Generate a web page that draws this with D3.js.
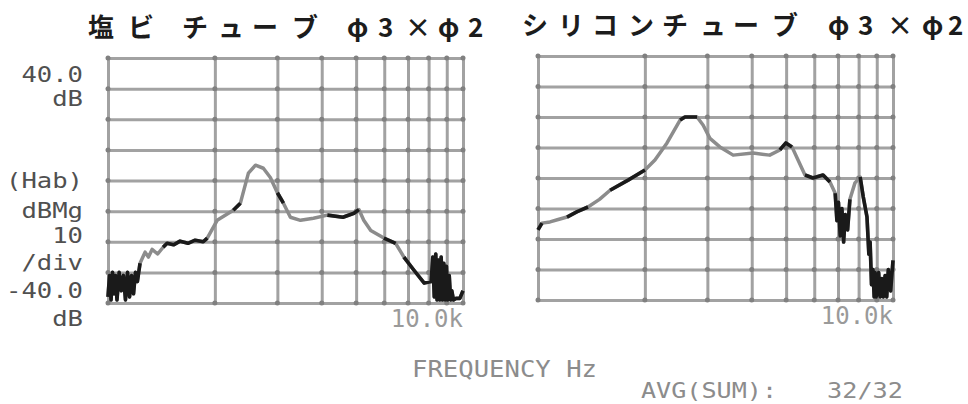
<!DOCTYPE html>
<html>
<head>
<meta charset="utf-8">
<script src="https://cdn.jsdelivr.net/npm/d3@7"></script>
<style>
  html, body { margin: 0; padding: 0; background: #fff; }
  svg { display: block; }
</style>
</head>
<body>
<svg id="chart" width="968" height="404"></svg>
<script>
// Transfer function magnitude |Hab|, 1 kHz – 10 kHz, two tube materials
const titles = ["塩ビチューブφ3×φ2", "シリコンチューブφ3×φ2"];

const freqGrid = [1000, 2000, 3000, 4000, 5000, 6000, 7000, 8000, 9000, 10000];
const dbGrid = [-40, -30, -20, -10, 0, 10, 20, 30, 40];
const yLabels = ["40.0", "dB", "(Hab)", "dBMg", "10", "/div", "-40.0", "dB"];
const xEndLabel = "10.0k";
const xAxisTitle = "FREQUENCY Hz";
const avgLabel = "AVG(SUM):";
const avgCount = "32/32";

// PVC tube
const pvcFreq = [1000, 1010, 1020, 1030, 1040, 1050, 1060, 1075, 1090, 1105, 1120, 1135, 1150, 1165, 1180, 1195, 1210,
  1231, 1272, 1300, 1331, 1380, 1430, 1467, 1530, 1596, 1680, 1760, 1855, 1904, 2030, 2254, 2360, 2486, 2603,
  2739, 2866, 3000, 3120, 3264, 3485, 3790, 4150, 4590, 4930, 5090, 5253, 5497, 5986, 6460, 6816, 7276, 7777,
  8133, 8220, 8300, 8380, 8450, 8530, 8600, 8680, 8750, 8830, 8900, 8980, 9050, 9145, 9230, 9300, 9400, 9557, 9800, 10000];
const pvcDb = [-38, -31, -39, -30, -37, -31, -39, -30, -36, -31, -39, -30, -38, -31, -37, -30, -33,
  -27, -23.4, -25, -22.5, -24, -21.8, -20.5, -21, -19.8, -20.5, -19.5, -20, -18.8, -13, -9.7, -7.4, 2.4, 5,
  4, 1, -4, -7.4, -12, -13, -12.3, -11.3, -12, -10.7, -9.5, -13, -16.3, -18.8, -20.5, -25, -29.3, -33.5,
  -33, -25, -38, -24, -39, -26, -39, -25, -39, -27, -39, -28, -39, -31, -39, -36, -39, -38.5, -38.5, -36];
const pvcDark = [[1000, 1231], [1430, 1904], [2254, 2360], [3000, 3120], [4150, 5090], [5986, 6460], [6816, 10000]];

// Silicone tube
const silFreq = [1000, 1026, 1081, 1140, 1207, 1290, 1383, 1490, 1596, 1794, 2001, 2135, 2309, 2513, 2594, 2806,
  2917, 3050, 3253, 3546, 4034, 4494, 4800, 4992, 5193, 5401, 5650, 5949, 6353, 6644, 6873, 6950, 7020, 7100,
  7180, 7260, 7340, 7450, 7562, 7814, 8082, 8240, 8448, 8550, 8620, 8700, 8780, 8850, 8900, 8960, 9030, 9110,
  9200, 9300, 9390, 9500, 9600, 9700, 9850, 10000];
const silDb = [-17, -14.8, -14.4, -13.6, -12.8, -11, -9.5, -7, -4, -0.7, 2.6, 5.9, 11.5, 19, 20, 20,
  17.4, 13, 10.2, 7.5, 8.2, 7.5, 9.2, 11.5, 10.2, 5.9, 1, 0, 1, -1.3, -5, -14, -8, -19,
  -10, -21, -12, -17, -7, -1.6, 0.3, -6, -12.8, -25, -21, -35, -30, -39, -31, -39, -37.7, -31,
  -39, -33, -39, -32, -39, -30, -37, -27];
const silDark = [[1000, 1026], [1207, 1383], [1596, 2001], [2513, 2806], [4800, 5193], [5650, 6644], [6873, 7562], [8082, 10000]];

// Title glyph positions and baselines, per panel
const titleX = [
  [88, 128, 182, 218, 252, 292, 347, 378, 405, 438, 468],
  [522, 558, 592, 628, 662, 700, 733, 772, 828, 858, 887, 922, 948]
];

const panels = [
  { title: titles[0], tx: titleX[0], ty: 37, freq: pvcFreq, db: pvcDb, dark: pvcDark, x0: 108, x1: 463, y0: 58, y1: 303 },
  { title: titles[1], tx: titleX[1], ty: 35, freq: silFreq, db: silDb, dark: silDark, x0: 538, x1: 893, y0: 56, y1: 300 }
];

const svg = d3.select("#chart");
svg.append("rect").attr("width", 968).attr("height", 404).attr("fill", "#fff");

const gridColor = "#a2a2a2";
const traceGray = "#8c8c8c";
const traceDark = "#1a1a1a";
const mono = "DejaVu Sans Mono, monospace";

panels.forEach(p => {
  const x = d3.scaleLog().domain([1000, 10000]).range([p.x0, p.x1]);
  const y = d3.scaleLinear().domain([-40, 40]).range([p.y1, p.y0]);
  const h = p.y1 - p.y0, w = p.x1 - p.x0;

  // Vertical grid
  const gx = svg.append("g").attr("transform", `translate(0,${p.y0})`)
    .call(d3.axisBottom(x).tickValues(freqGrid).tickSize(h).tickSizeOuter(0).tickFormat(""));
  gx.select(".domain").remove();
  gx.selectAll(".tick line").attr("stroke", gridColor).attr("stroke-width", 3);

  // Horizontal grid
  const gy = svg.append("g").attr("transform", `translate(${p.x0},0)`)
    .call(d3.axisRight(y).tickValues(dbGrid).tickSize(w).tickSizeOuter(0).tickFormat(""));
  gy.select(".domain").remove();
  gy.selectAll(".tick line").attr("stroke", gridColor).attr("stroke-width", 3);

  // Intersection dots
  const pts = [];
  freqGrid.forEach(f => dbGrid.forEach(d => pts.push([f, d])));
  svg.append("g").selectAll("circle").data(pts).join("circle")
    .attr("cx", d => x(d[0])).attr("cy", d => y(d[1])).attr("r", 2.5)
    .attr("fill", "#808080");

  // Trace
  const data = p.freq.map((f, i) => ({ f, v: p.db[i] }));
  const line = d3.line().x(d => x(d.f)).y(d => y(d.v));
  svg.append("path").datum(data).attr("d", line)
    .attr("fill", "none").attr("stroke", traceGray).attr("stroke-width", 3.5)
    .attr("stroke-linejoin", "round");
  p.dark.forEach(([a, b]) => {
    const seg = data.filter(d => d.f >= a && d.f <= b);
    if (seg.length > 1) {
      svg.append("path").datum(seg).attr("d", line)
        .attr("fill", "none").attr("stroke", traceDark).attr("stroke-width", 3.6)
        .attr("stroke-linejoin", "round");
    }
  });

  // Frequency end label
  svg.append("text").attr("x", p.x1).attr("y", p.y1 + 24)
    .attr("text-anchor", "end").attr("font-family", mono)
    .attr("font-size", 24).attr("fill", "#9a9a9a").text(xEndLabel);

  // Title
  svg.append("text").attr("x", p.tx.join(" ")).attr("y", p.ty)
    .attr("font-family", "Noto Sans CJK JP, sans-serif").attr("font-weight", "bold")
    .attr("font-size", 26).attr("fill", "#1c1c1c").text(p.title);
});

// Left-hand scale labels (right-aligned at x = 83)
const yLabelPos = [82, 106, 188, 218, 243, 270, 298, 326];
const charW = 15.4;
svg.append("g").selectAll("text").data(yLabels).join("text")
  .attr("x", d => 83 - d.length * charW).attr("y", (d, i) => yLabelPos[i])
  .attr("textLength", d => d.length * charW).attr("lengthAdjust", "spacingAndGlyphs")
  .attr("font-family", mono)
  .attr("font-size", 21).attr("fill", "#505050").text(d => d);

// Footer
svg.append("text").attr("x", 412).attr("y", 377).attr("font-family", mono)
  .attr("font-size", 23).attr("fill", "#8c8c8c")
  .attr("textLength", 185).attr("lengthAdjust", "spacingAndGlyphs").text(xAxisTitle);
svg.append("text").attr("x", 641).attr("y", 398).attr("font-family", mono)
  .attr("font-size", 21).attr("fill", "#8c8c8c")
  .attr("textLength", 136).attr("lengthAdjust", "spacingAndGlyphs").text(avgLabel);
svg.append("text").attr("x", 827).attr("y", 398).attr("font-family", mono)
  .attr("font-size", 21).attr("fill", "#8c8c8c")
  .attr("textLength", 76).attr("lengthAdjust", "spacingAndGlyphs").text(avgCount);
</script>
</body>
</html>
